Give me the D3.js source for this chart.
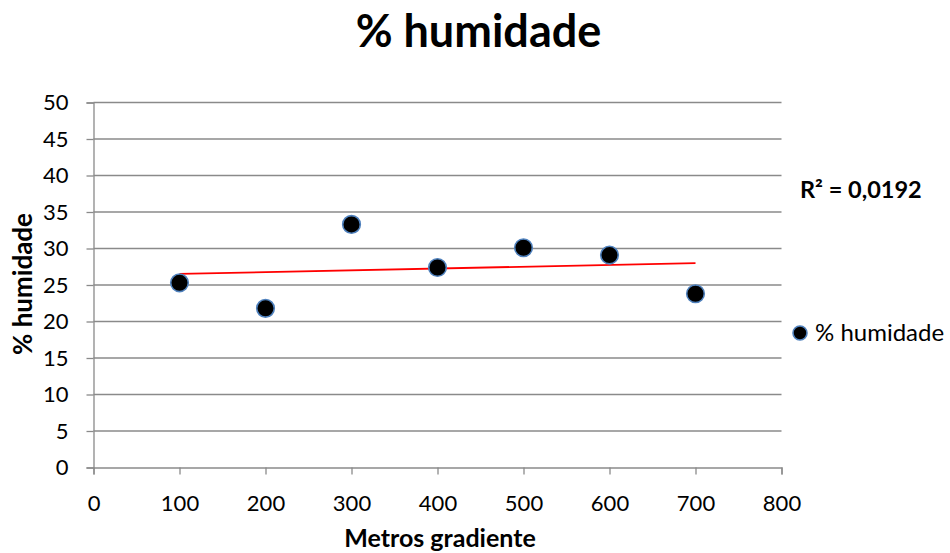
<!DOCTYPE html>
<html>
<head>
<meta charset="utf-8">
<script src="https://cdn.jsdelivr.net/npm/d3@7"></script>
<style>
  html, body { margin: 0; padding: 0; background: #fff; }
  svg { display: block; font-family: "Lato", "Open Sans", sans-serif; }
</style>
</head>
<body>
<svg id="chart" width="950" height="553"></svg>
<script>
// Altitude along the gradient (m) and measured humidity (%)
const metros = [100, 200, 300, 400, 500, 600, 700];
const humidade = [25.3, 21.8, 33.3, 27.4, 30.1, 29.1, 23.8];
const xTicks = [0, 100, 200, 300, 400, 500, 600, 700, 800];
const yTicks = [0, 5, 10, 15, 20, 25, 30, 35, 40, 45, 50];
const r2Label = "R² = 0,0192";
const titleText = "% humidade";
const xTitle = "Metros gradiente";
const yTitle = "% humidade";
const legendText = "% humidade";

const svg = d3.select("#chart");
const plot = { left: 93.5, right: 781.5, top: 102.5, bottom: 467.5 };

const x = d3.scaleLinear().domain([0, 800]).range([plot.left, plot.right]);
const y = d3.scaleLinear().domain([0, 50]).range([plot.bottom, plot.top]);

const gridColor = "#8a8a8a";
const font = "Lato, sans-serif";

// Horizontal gridlines
svg.append("g")
  .selectAll("line")
  .data(yTicks.filter(d => d > 0))
  .join("line")
  .attr("x1", plot.left).attr("x2", plot.right)
  .attr("y1", d => y(d)).attr("y2", d => y(d))
  .attr("stroke", gridColor).attr("stroke-width", 1.3);

// Y axis
const yAxis = svg.append("g")
  .attr("transform", `translate(${plot.left},0)`)
  .call(d3.axisLeft(y).tickValues(yTicks).tickSize(7).tickPadding(18).tickFormat(d3.format("d")));
yAxis.select(".domain").attr("stroke", gridColor).attr("stroke-width", 1.3);
yAxis.selectAll(".tick line").attr("stroke", gridColor).attr("stroke-width", 1.3);
yAxis.selectAll(".tick text")
  .attr("font-size", 22).attr("fill", "#000").attr("font-family", font);

// X axis
const xAxis = svg.append("g")
  .attr("transform", `translate(0,${plot.bottom})`)
  .call(d3.axisBottom(x).tickValues(xTicks).tickSize(7).tickPadding(21).tickFormat(d3.format("d")));
xAxis.select(".domain").attr("stroke", gridColor).attr("stroke-width", 1.3);
xAxis.selectAll(".tick line").attr("stroke", gridColor).attr("stroke-width", 1.3);
xAxis.selectAll(".tick text")
  .attr("font-size", 22).attr("fill", "#000").attr("font-family", font);

// Linear trendline (least squares)
const n = metros.length;
const mx = d3.mean(metros), my = d3.mean(humidade);
let sxy = 0, sxx = 0;
for (let i = 0; i < n; i++) {
  sxy += (metros[i] - mx) * (humidade[i] - my);
  sxx += (metros[i] - mx) ** 2;
}
const slope = sxy / sxx;
const intercept = my - slope * mx;
const x0 = d3.min(metros), x1 = d3.max(metros);
svg.append("line")
  .attr("x1", x(x0)).attr("y1", y(intercept + slope * x0))
  .attr("x2", x(x1)).attr("y2", y(intercept + slope * x1))
  .attr("stroke", "#ff0000").attr("stroke-width", 1.8);

// Points
svg.append("g")
  .selectAll("circle")
  .data(metros.map((m, i) => [m, humidade[i]]))
  .join("circle")
  .attr("cx", d => x(d[0])).attr("cy", d => y(d[1]))
  .attr("r", 8.8)
  .attr("fill", "#000")
  .attr("stroke", "#4f81bd").attr("stroke-width", 1.6);

// Title
svg.append("text")
  .attr("x", 478.5).attr("y", 47)
  .attr("text-anchor", "middle")
  .attr("font-size", 45).attr("font-weight", "bold")
  .text(titleText);

// Axis titles
svg.append("text")
  .attr("x", 440).attr("y", 547)
  .attr("text-anchor", "middle")
  .attr("font-size", 25).attr("font-weight", "bold")
  .text(xTitle);

svg.append("text")
  .attr("transform", `translate(32,284) rotate(-90)`)
  .attr("text-anchor", "middle")
  .attr("font-size", 26).attr("font-weight", "bold")
  .text(yTitle);

// R² annotation
svg.append("text")
  .attr("x", 800).attr("y", 198)
  .attr("font-size", 23.5).attr("font-weight", "bold")
  .text(r2Label);

// Legend
svg.append("circle")
  .attr("cx", 800).attr("cy", 333).attr("r", 7)
  .attr("fill", "#000").attr("stroke", "#4f81bd").attr("stroke-width", 1.6);
svg.append("text")
  .attr("x", 815).attr("y", 341)
  .attr("font-size", 24)
  .text(legendText);
</script>
</body>
</html>
